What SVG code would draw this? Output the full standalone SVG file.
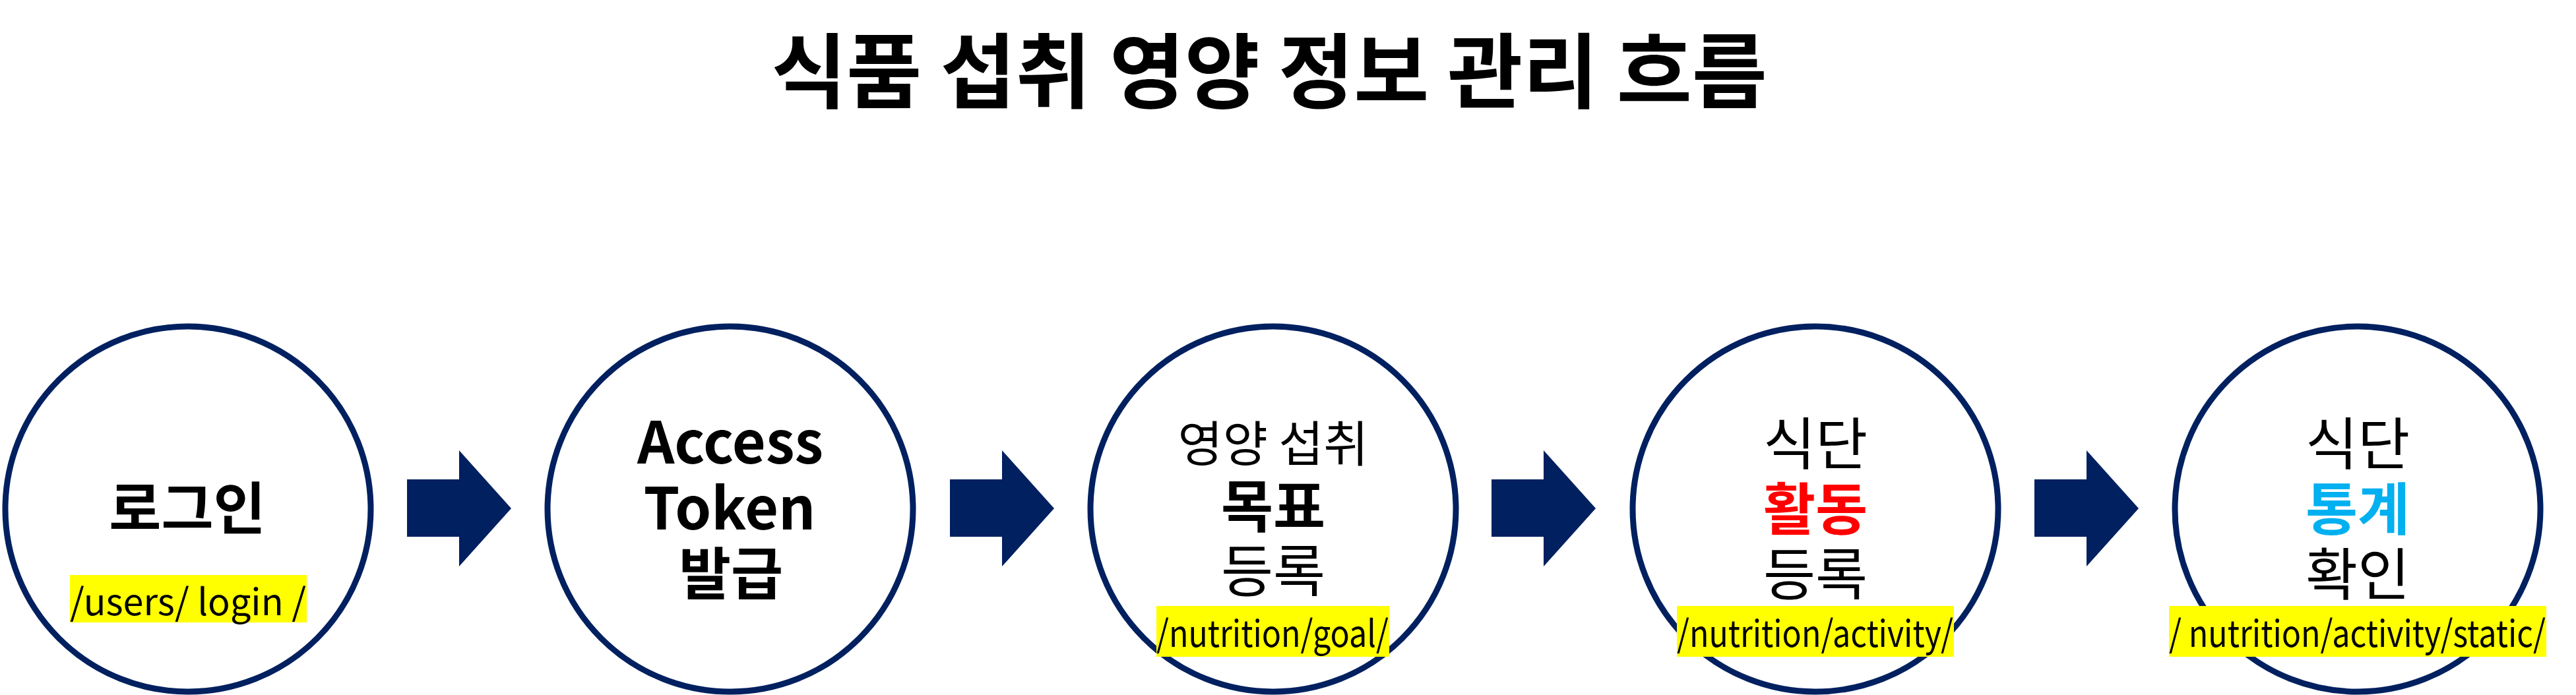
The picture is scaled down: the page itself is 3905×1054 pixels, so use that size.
<svg xmlns="http://www.w3.org/2000/svg" width="3905" height="1054" viewBox="0 0 3905 1054">
<style>
.c{fill:#FFFFFF;stroke:#002060;stroke-width:9}
.a{fill:#002060}
.t{font-family:"Noto Sans CJK KR","Noto Sans",sans-serif;fill:#000000;text-anchor:middle}
.b{font-weight:bold}
.r{font-weight:normal}
.hl{fill:#FFFF00}
.p{font-family:"Noto Sans CJK KR","Noto Sans",sans-serif;font-size:56px;fill:#000000}
</style>
<rect x="0" y="0" width="3905" height="1054" fill="#FFFFFF"/>
<g id="title">
<text class="t b" x="1924" y="154" font-size="124">식품 섭취 영양 정보 관리 흐름</text>
</g>
<g id="connectors">
<polygon class="a" points="617,727 696,727 696,683 775,771 696,859 696,814 617,814"/>
<polygon class="a" points="1440,727 1519,727 1519,683 1598,771 1519,859 1519,814 1440,814"/>
<polygon class="a" points="2261,727 2340,727 2340,683 2419,771 2340,859 2340,814 2261,814"/>
<polygon class="a" points="3084,727 3163,727 3163,683 3242,771 3163,859 3163,814 3084,814"/>
</g>
<g id="node-login">
<circle class="c" cx="285" cy="772" r="277"/>
<text class="t b" x="284" y="803" font-size="86">로그인</text>
<rect class="hl" x="106" y="872" width="359" height="72"/>
<text class="p" x="106" y="933" textLength="358" lengthAdjust="spacingAndGlyphs">/users/ login /</text>
</g>
<g id="node-token">
<circle class="c" cx="1107" cy="772" r="277"/>
<text class="t b" x="1107" y="703" font-size="88">Access</text>
<text class="t b" x="1106" y="803" font-size="88">Token</text>
<text class="t b" x="1108" y="902" font-size="86">발급</text>
</g>
<g id="node-goal">
<circle class="c" cx="1930" cy="772" r="277"/>
<text class="t r" x="1930" y="700" font-size="74">영양 섭취</text>
<text class="t b" x="1930" y="800" font-size="86">목표</text>
<text class="t r" x="1930" y="898" font-size="86">등록</text>
<rect class="hl" x="1753" y="919" width="353" height="77"/>
<text class="p" x="1753" y="981" textLength="352" lengthAdjust="spacingAndGlyphs">/nutrition/goal/</text>
</g>
<g id="node-activity">
<circle class="c" cx="2752" cy="772" r="277"/>
<text class="t r" x="2752" y="705" font-size="86">식단</text>
<text class="t b" x="2752" y="804" font-size="86" fill="#FF0000" style="fill:#FF0000">활동</text>
<text class="t r" x="2752" y="903" font-size="86">등록</text>
<rect class="hl" x="2542" y="919" width="420" height="77"/>
<text class="p" x="2542" y="981" textLength="419" lengthAdjust="spacingAndGlyphs">/nutrition/activity/</text>
</g>
<g id="node-static">
<circle class="c" cx="3574" cy="772" r="277"/>
<text class="t r" x="3574" y="705" font-size="86">식단</text>
<text class="t b" x="3574" y="804" font-size="86" style="fill:#00B0F0">통계</text>
<text class="t r" x="3574" y="903" font-size="86">확인</text>
<rect class="hl" x="3288" y="919" width="572" height="77"/>
<text class="p" x="3288" y="981" textLength="571" lengthAdjust="spacingAndGlyphs">/ nutrition/activity/static/</text>
</g>
</svg>
